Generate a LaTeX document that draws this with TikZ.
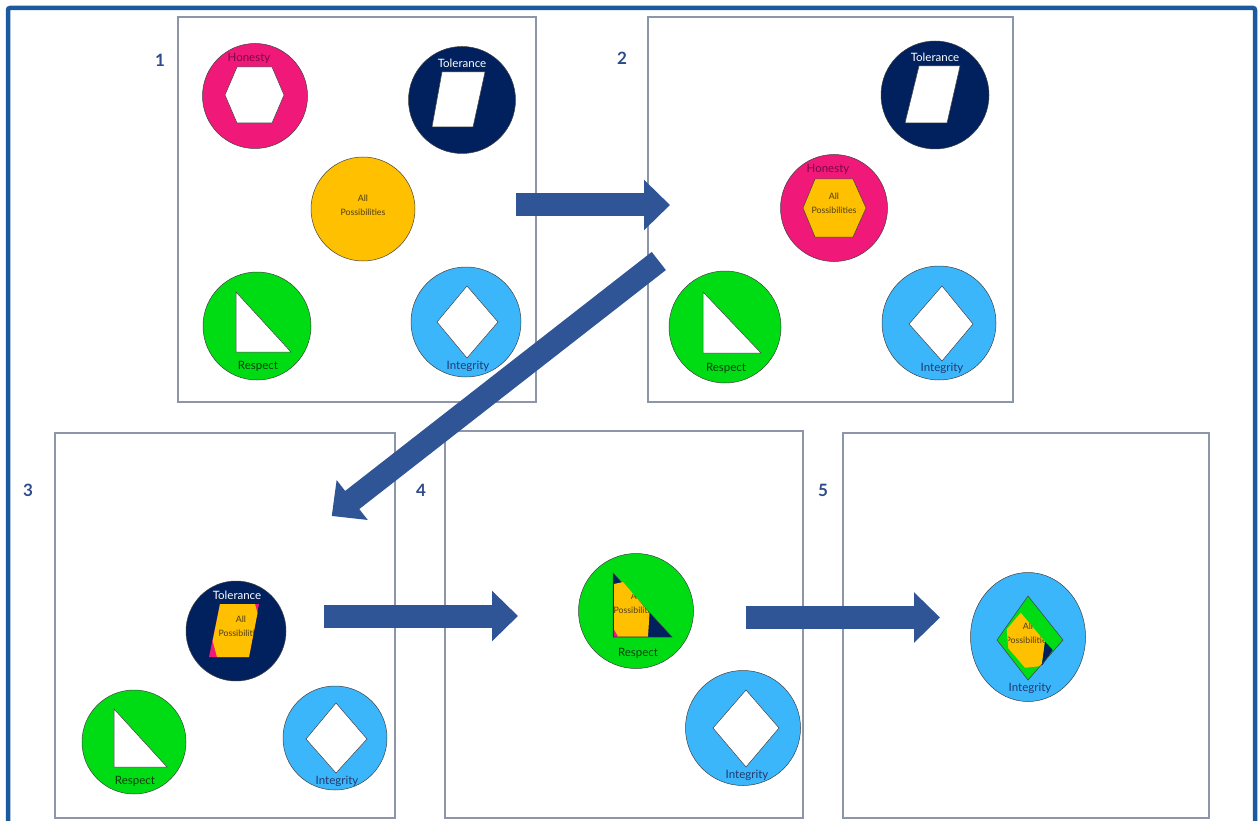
\documentclass[tikz,border=0pt]{standalone}
\usepackage{fontspec}
\setmainfont{Lato}
\usetikzlibrary{arrows.meta,shapes.geometric}
\definecolor{frameblue}{HTML}{1B5A9E}
\definecolor{panelgray}{HTML}{8C96A8}
\definecolor{arrowblue}{HTML}{2F5597}
\definecolor{hpink}{HTML}{F0197A}
\definecolor{tnavy}{HTML}{00215E}
\definecolor{ayellow}{HTML}{FFC000}
\definecolor{rgreen}{HTML}{00DC14}
\definecolor{iblue}{HTML}{3CB6FA}
\definecolor{numblue}{HTML}{2D4A8A}
\definecolor{htext}{HTML}{7A0846}
\definecolor{rtext}{HTML}{0E3E0E}
\definecolor{itext}{HTML}{1F3A70}
\definecolor{ptext}{HTML}{4D3D12}
\definecolor{outl}{HTML}{404040}
\begin{document}
\begin{tikzpicture}[x=1pt,y=-1pt,
 panel/.style={draw=panelgray,line width=1.1pt},
 disc/.style={circle,draw=outl,line width=0.5pt,inner sep=0pt},
 shp/.style={draw=outl,line width=0.5pt,line join=miter},
 lbl/.style={font=\fontsize{11.5}{12}\selectfont,inner sep=0pt},
 small/.style={font=\fontsize{8.8}{14}\selectfont,inner sep=0pt,text=ptext,align=center},
 num/.style={font=\fontsize{17}{18}\selectfont\bfseries,text=numblue,inner sep=0pt},
 bigarrow/.style={draw=arrowblue,line width=23pt,-{Triangle[length=26pt,width=49pt]}}
]
\useasboundingbox (0,0) rectangle (1258,821);
\begin{scope}
\clip (0,0) rectangle (1258,821);
\draw[frameblue,line width=4.5pt,rounded corners=2pt] (8,8) rectangle (1255,840);
\end{scope}

% panels
\draw[panel] (178,17) rectangle (536,402);
\draw[panel] (648,17) rectangle (1013,402);
\draw[panel] (55,433) rectangle (395,818);
\draw[panel] (445,431) rectangle (803,818);
\draw[panel] (843,433) rectangle (1209,818);

\node[num] (n1) at (160,60) {1};
\node[num] (n2) at (622,58) {2};
\node[num] (n3) at (28,490) {3};
\node[num] (n4) at (421,490) {4};
\node[num] (n5) at (823,490) {5};

% ---------- panel 1 ----------
\node[disc,fill=hpink,minimum size=105pt] (h1) at (255,96) {};
\draw[shp,fill=white] (225,95) -- (237,67) -- (272,67) -- (284,95) -- (272,123) -- (237,123) -- cycle;
\node[lbl,text=htext] (h1l) at (249,58) {Honesty};

\node[disc,fill=tnavy,minimum size=107pt] (t1) at (462,100) {};
\draw[shp,fill=white] (442,72) -- (485,72) -- (473,127) -- (432,127) -- cycle;
\node[lbl,text=white] (t1l) at (462,63) {Tolerance};

\node[disc,fill=ayellow,minimum size=104pt] (a1) at (363,209) {};
\node[small] (a1l) at (363,205) {All\\Possibilities};

\node[disc,fill=rgreen,minimum size=108pt] (r1) at (257,326) {};
\draw[shp,fill=white] (236,292) -- (236,352) -- (291,352) -- cycle;
\node[lbl,text=rtext] (r1l) at (258,366) {Respect};

\node[disc,fill=iblue,minimum size=110pt] (i1) at (466,322) {};
\draw[shp,fill=white] (467,286) -- (498,322) -- (467,358) -- (437,322) -- cycle;
\node[lbl,text=itext] (i1l) at (468,366) {Integrity};

% ---------- panel 2 ----------
\node[disc,fill=tnavy,minimum size=108pt] (t2) at (935,95) {};
\draw[shp,fill=white] (919,66) -- (960,66) -- (947,123) -- (905,123) -- cycle;
\node[lbl,text=white] (t2l) at (935,57) {Tolerance};

\node[disc,fill=hpink,minimum size=107pt] (h2) at (834,208) {};
\draw[shp,fill=ayellow] (803,208) -- (815,179) -- (853,179) -- (866,208) -- (853,237) -- (815,237) -- cycle;
\node[lbl,text=htext] (h2l) at (828,169) {Honesty};
\node[small] (a2l) at (834,203) {All\\Possibilities};

\node[disc,fill=rgreen,minimum size=112pt] (r2) at (725,327) {};
\draw[shp,fill=white] (703,292) -- (703,353) -- (761,353) -- cycle;
\node[lbl,text=rtext] (r2l) at (726,368) {Respect};

\node[disc,fill=iblue,minimum size=114pt] (i2) at (939,323) {};
\draw[shp,fill=white] (942,286) -- (973,324) -- (942,361) -- (909,324) -- cycle;
\node[lbl,text=itext] (i2l) at (942,368) {Integrity};

% ---------- panel 3 ----------
\node[disc,fill=tnavy,minimum size=100pt] (t3) at (236,631) {};
\fill[hpink] (220,604) -- (259,604) -- (249,657) -- (209,657) -- cycle;
\fill[ayellow] (220,604) -- (255,604) -- (257.5,613) -- (249,657) -- (217,657) -- (212.6,641) -- cycle;
\begin{scope}
\clip (220,604) -- (259,604) -- (249,657) -- (209,657) -- cycle;
\node[small] (a3l) at (241,626) {All\\Possibilities};
\end{scope}
\node[lbl,text=white] (t3l) at (237,595) {Tolerance};

\node[disc,fill=rgreen,minimum size=104pt] (r3) at (134,742) {};
\draw[shp,fill=white] (114,709) -- (114,767) -- (167,767) -- cycle;
\node[lbl,text=rtext] (r3l) at (135,781) {Respect};

\node[disc,fill=iblue,minimum size=104pt] (i3) at (335,738) {};
\draw[shp,fill=white] (336,703) -- (367,739) -- (336,773) -- (306,739) -- cycle;
\node[lbl,text=itext] (i3l) at (337,781) {Integrity};

% ---------- panel 4 ----------
\node[disc,fill=rgreen,minimum size=115pt] (r4) at (636,611) {};
\draw[shp,fill=tnavy] (613,573) -- (613,637) -- (672,637) -- cycle;
\fill[ayellow] (614,584) -- (623,582) -- (649.5,613) -- (648,636.5) -- (617,636.5) -- (614,631) -- cycle;
\fill[hpink] (613.5,629) -- (613.5,636.5) -- (618,636.5) -- cycle;
\begin{scope}
\clip (614,584) -- (623,582) -- (649.5,613) -- (648,636.5) -- (617,636.5) -- (614,631) -- cycle;
\node[small] (a4l) at (636,603) {All\\Possibilities};
\end{scope}
\node[lbl,text=rtext] (r4l) at (638,653) {Respect};

\node[disc,fill=iblue,minimum size=115pt] (i4) at (743,728) {};
\draw[shp,fill=white] (746,690) -- (779,728) -- (746,767) -- (713,728) -- cycle;
\node[lbl,text=itext] (i4l) at (747,775) {Integrity};

% ---------- panel 5 ----------
\node[ellipse,draw=outl,line width=0.5pt,inner sep=0pt,fill=iblue,minimum width=115pt,minimum height=129pt] (i5) at (1028,637) {};
\fill[rgreen] (1028,596) -- (1063,640) -- (1028,680) -- (997,640) -- cycle;
\fill[ayellow] (1006.7,629.3) -- (1020.7,612.7) -- (1045,641.7) -- (1041.7,666) -- (1025,667.7) -- (1008.3,648.3) -- cycle;
\fill[tnavy] (1045,641.7) -- (1052.7,650) -- (1041.7,666) -- cycle;
\begin{scope}
\clip (1006.7,629.3) -- (1020.7,612.7) -- (1045,641.7) -- (1041.7,666) -- (1025,667.7) -- (1008.3,648.3) -- cycle;
\node[small] (a5l) at (1028,633) {All\\Possibilities};
\end{scope}
\draw[shp] (1028,596) -- (1063,640) -- (1028,680) -- (997,640) -- cycle;
\node[lbl,text=itext] (i5l) at (1030,688) {Integrity};

% ---------- arrows ----------
\coordinate (s12) at (516,205);
\coordinate (e12) at (670,205);
\coordinate (s23) at (658.8,261);
\coordinate (e23) at (331.7,516);
\coordinate (s34) at (324,616);
\coordinate (e34) at (518,616);
\coordinate (s45) at (746,617.5);
\coordinate (e45) at (940,617.5);
\draw[bigarrow] (s12) -- (e12);
\draw[bigarrow] (s23) -- (e23);
\draw[bigarrow] (s34) -- (e34);
\draw[bigarrow] (s45) -- (e45);
\end{tikzpicture}
\end{document}
